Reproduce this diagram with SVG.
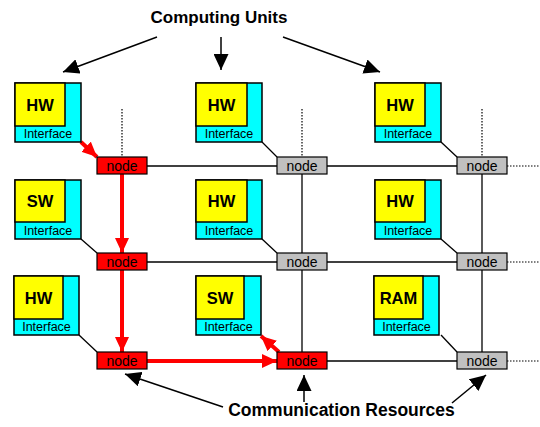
<svg xmlns="http://www.w3.org/2000/svg" width="540" height="427" viewBox="0 0 540 427">
<style>
.cy{fill:#00ffff;stroke:#000;stroke-width:1.5}
.ye{fill:#ffff00;stroke:#000;stroke-width:1.5}
.nr{fill:#ff0000;stroke:#000;stroke-width:1.2}
.ng{fill:#c0c0c0;stroke:#000;stroke-width:1.2}
.u{font-family:"Liberation Sans",Arial,sans-serif;font-weight:bold;font-size:16.5px;text-anchor:middle;fill:#000}
.i{font-family:"Liberation Sans",Arial,sans-serif;font-size:12.5px;text-anchor:middle;fill:#000}
.n{font-family:"Liberation Sans",Arial,sans-serif;font-size:14px;text-anchor:middle;fill:#000}
.t{font-family:"Liberation Sans",Arial,sans-serif;font-weight:bold;font-size:17px;text-anchor:middle;fill:#000}
.k{stroke:#000;stroke-width:1.3;fill:none}
.d{stroke:#000;stroke-width:1.2;fill:none;stroke-dasharray:1.5 1.5}
.r{stroke:#ff0000;stroke-width:4;fill:none}
.a{stroke:#000;stroke-width:1.5;fill:none}
</style>
<defs>
<marker id="ar" markerUnits="userSpaceOnUse" markerWidth="16" markerHeight="14" refX="15" refY="7" orient="auto">
<path d="M0,0 L15,7 L0,14 Z" fill="#ff0000"/>
</marker>
<marker id="ak" markerUnits="userSpaceOnUse" markerWidth="17" markerHeight="15" refX="16" refY="7.5" orient="auto">
<path d="M0,0 L16,7.5 L0,15 Z" fill="#000"/>
</marker>
</defs>
<g id="connectors">
<line class="k" x1="147" y1="166" x2="277" y2="166"/>
<line class="k" x1="327" y1="166" x2="457" y2="166"/>
<line class="d" x1="507" y1="166" x2="540" y2="166"/>
<line class="k" x1="147" y1="262" x2="277" y2="262"/>
<line class="k" x1="327" y1="262" x2="457" y2="262"/>
<line class="d" x1="507" y1="262" x2="540" y2="262"/>
<line class="k" x1="327" y1="361" x2="457" y2="361"/>
<line class="d" x1="507" y1="361" x2="540" y2="361"/>
<line class="d" x1="122" y1="109" x2="122" y2="157"/>
<line class="d" x1="302" y1="109" x2="302" y2="157"/>
<line class="d" x1="482" y1="109" x2="482" y2="157"/>
<line class="k" x1="302" y1="174" x2="302" y2="253"/>
<line class="k" x1="302" y1="270" x2="302" y2="352"/>
<line class="k" x1="482" y1="174" x2="482" y2="253"/>
<line class="k" x1="482" y1="270" x2="482" y2="352"/>
<line class="k" x1="262" y1="142" x2="277" y2="157"/>
<line class="k" x1="441" y1="142" x2="457" y2="157"/>
<line class="k" x1="81" y1="239" x2="97" y2="253"/>
<line class="k" x1="262" y1="239" x2="277" y2="253"/>
<line class="k" x1="441" y1="239" x2="457" y2="253"/>
<line class="k" x1="79" y1="335" x2="97" y2="352"/>
<line class="k" x1="441" y1="335" x2="457" y2="352"/>
<line class="r" x1="81" y1="142" x2="97" y2="157" marker-end="url(#ar)"/>
<line class="r" x1="122" y1="174" x2="122" y2="253" marker-end="url(#ar)"/>
<line class="r" x1="122" y1="270" x2="122" y2="352" marker-end="url(#ar)"/>
<line class="r" x1="147" y1="361" x2="277" y2="361" marker-end="url(#ar)"/>
<line class="r" x1="279" y1="352" x2="261" y2="336" marker-end="url(#ar)"/>
<line class="a" x1="157" y1="37" x2="63" y2="72" marker-end="url(#ak)"/>
<line class="a" x1="221" y1="37" x2="221" y2="70" marker-end="url(#ak)"/>
<line class="a" x1="283" y1="37" x2="380" y2="72" marker-end="url(#ak)"/>
<line class="a" x1="223" y1="407" x2="125" y2="374" marker-end="url(#ak)"/>
<line class="a" x1="304" y1="402" x2="304" y2="375" marker-end="url(#ak)"/>
<line class="a" x1="452" y1="403" x2="486" y2="375" marker-end="url(#ak)"/>
</g>
<g id="cu11"><rect class="cy" x="15" y="83" width="66" height="59"/><rect class="ye" x="15" y="83" width="50" height="43"/><text class="u" x="40" y="110.5">HW</text><text class="i" x="48" y="137.5">Interface</text></g>
<g id="cu12"><rect class="cy" x="196" y="83" width="66" height="59"/><rect class="ye" x="196" y="83" width="51" height="43"/><text class="u" x="221.5" y="110.5">HW</text><text class="i" x="229" y="137.5">Interface</text></g>
<g id="cu13"><rect class="cy" x="375" y="83" width="66" height="59"/><rect class="ye" x="375" y="83" width="50" height="43"/><text class="u" x="400" y="110.5">HW</text><text class="i" x="408" y="137.5">Interface</text></g>
<g id="cu21"><rect class="cy" x="15" y="180" width="66" height="59"/><rect class="ye" x="15" y="180" width="50" height="42"/><text class="u" x="40" y="207">SW</text><text class="i" x="48" y="234.5">Interface</text></g>
<g id="cu22"><rect class="cy" x="196" y="180" width="66" height="59"/><rect class="ye" x="196" y="180" width="51" height="42"/><text class="u" x="221.5" y="207">HW</text><text class="i" x="229" y="234.5">Interface</text></g>
<g id="cu23"><rect class="cy" x="375" y="180" width="66" height="59"/><rect class="ye" x="375" y="180" width="50" height="42"/><text class="u" x="400" y="207">HW</text><text class="i" x="408" y="234.5">Interface</text></g>
<g id="cu31"><rect class="cy" x="14" y="276" width="65" height="59"/><rect class="ye" x="14" y="276" width="49" height="43"/><text class="u" x="38.5" y="303.5">HW</text><text class="i" x="46.5" y="330.5">Interface</text></g>
<g id="cu32"><rect class="cy" x="196" y="276" width="65" height="59"/><rect class="ye" x="196" y="276" width="48" height="43"/><text class="u" x="220" y="303.5">SW</text><text class="i" x="228.5" y="330.5">Interface</text></g>
<g id="cu33"><rect class="cy" x="374" y="276" width="65" height="59"/><rect class="ye" x="374" y="276" width="49" height="43"/><text class="u" x="398.5" y="303.5">RAM</text><text class="i" x="406.5" y="330.5">Interface</text></g>
<g id="n11"><rect class="nr" x="97" y="157" width="50" height="17"/><text class="n" x="122" y="171">node</text></g>
<g id="n12"><rect class="ng" x="277" y="157" width="50" height="17"/><text class="n" x="302" y="171">node</text></g>
<g id="n13"><rect class="ng" x="457" y="157" width="50" height="17"/><text class="n" x="482" y="171">node</text></g>
<g id="n21"><rect class="nr" x="97" y="253" width="50" height="17"/><text class="n" x="122" y="267">node</text></g>
<g id="n22"><rect class="ng" x="277" y="253" width="50" height="17"/><text class="n" x="302" y="267">node</text></g>
<g id="n23"><rect class="ng" x="457" y="253" width="50" height="17"/><text class="n" x="482" y="267">node</text></g>
<g id="n31"><rect class="nr" x="97" y="352" width="50" height="17"/><text class="n" x="122" y="366">node</text></g>
<g id="n32"><rect class="nr" x="277" y="352" width="50" height="17"/><text class="n" x="302" y="366">node</text></g>
<g id="n33"><rect class="ng" x="457" y="352" width="50" height="17"/><text class="n" x="482" y="366">node</text></g>
<g id="labels">
<text class="t" x="219" y="23">Computing Units</text>
<text class="t" x="341.5" y="416" style="font-size:17.5px">Communication Resources</text>
</g>
</svg>
